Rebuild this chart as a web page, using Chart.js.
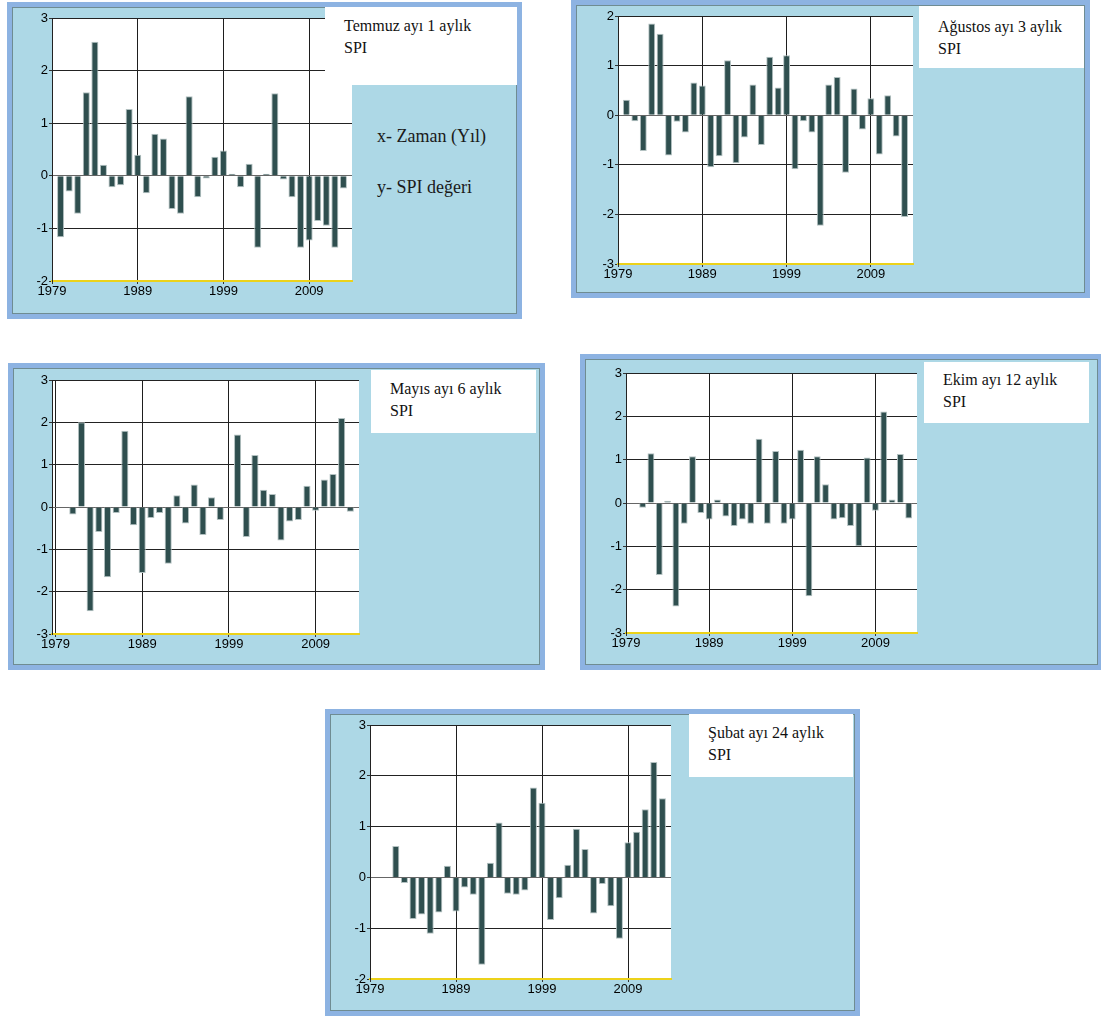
<!DOCTYPE html>
<html>
<head>
<meta charset="utf-8">
<script src="https://cdn.jsdelivr.net/npm/chart.js@4.4.0/dist/chart.umd.min.js"></script>
<style>
  html, body { margin: 0; padding: 0; background: #fff; }
  body { position: relative; width: 1101px; height: 1016px; overflow: hidden; }
  .frame { position: absolute; box-sizing: border-box; border: 5px solid #8db3e2; background: #add8e6; box-shadow: inset 0 0 0 1px #6f8c92; }
  canvas { position: absolute; }
  .label { position: absolute; box-sizing: border-box; background: #fff; z-index: 2;
           font-family: 'Liberation Serif', 'Times New Roman', serif; font-size: 16px; line-height: 22px;
           color: #111; padding-left: 19px; white-space: nowrap; }
  .note { position: absolute; font-family: 'Liberation Serif', 'Times New Roman', serif; font-size: 18px;
          line-height: 18px; color: #1a1a1a; white-space: nowrap; }
</style>
</head>
<body>
<div class="frame" style="left:7px;top:2px;width:515px;height:317px"></div>
<div class="frame" style="left:571px;top:0px;width:519px;height:298px"></div>
<div class="frame" style="left:8px;top:363px;width:537px;height:307px"></div>
<div class="frame" style="left:580px;top:354px;width:523px;height:316px"></div>
<div class="frame" style="left:325px;top:709px;width:535px;height:307px"></div>

<canvas id="temmuzChart"></canvas>
<canvas id="agustosChart"></canvas>
<canvas id="mayisChart"></canvas>
<canvas id="ekimChart"></canvas>
<canvas id="subatChart"></canvas>

<div class="label" style="left:325px;top:7px;width:192px;height:78px;padding-top:8px">Temmuz ayı 1 aylık<br>SPI</div>
<div class="label" style="left:919px;top:6px;width:165px;height:62px;padding-top:10px">Ağustos ayı 3 aylık<br>SPI</div>
<div class="label" style="left:371px;top:370px;width:165px;height:63px;padding-top:8px">Mayıs ayı 6 aylık<br>SPI</div>
<div class="label" style="left:924px;top:362px;width:165px;height:61px;padding-top:7px">Ekim ayı 12 aylık<br>SPI</div>
<div class="label" style="left:689px;top:714px;width:164px;height:63px;padding-top:8px">Şubat ayı 24 aylık<br>SPI</div>

<div class="note" style="left:377px;top:127px">x- Zaman (Yıl)</div>
<div class="note" style="left:377px;top:178px">y- SPI değeri</div>

<script>
// years shown on the x axis of every panel
const years = [1980, 1981, 1982, 1983, 1984, 1985, 1986, 1987, 1988, 1989,
               1990, 1991, 1992, 1993, 1994, 1995, 1996, 1997, 1998, 1999,
               2000, 2001, 2002, 2003, 2004, 2005, 2006, 2007, 2008, 2009,
               2010, 2011, 2012, 2013];
const tickYears = [1979, 1989, 1999, 2009];

// SPI values per panel (null = no bar)
const temmuz1 = [-1.17, -0.30, -0.72, 1.59, 2.55, 0.21, -0.22, -0.18, 1.27, 0.40,
                 -0.33, 0.80, 0.71, -0.63, -0.72, 1.51, -0.41, -0.05, 0.36, 0.48,
                 0.04, -0.22, 0.23, -1.37, 0.04, 1.57, -0.07, -0.41, -1.37, -1.23,
                 -0.86, -0.95, -1.37, -0.24];
const agustos3 = [0.31, -0.12, -0.72, 1.85, 1.64, -0.81, -0.13, -0.35, 0.66, 0.60,
                  -1.05, -0.83, 1.11, -0.97, -0.45, 0.62, -0.60, 1.18, 0.56, 1.21,
                  -1.09, -0.12, -0.35, -2.23, 0.62, 0.77, -1.16, 0.54, -0.29, 0.34,
                  -0.79, 0.40, -0.43, -2.05];
const mayis6 = [null, -0.18, 2.00, -2.46, -0.59, -1.66, -0.14, 1.80, -0.43, -1.56,
                -0.26, -0.14, -1.34, 0.28, -0.39, 0.53, -0.66, 0.23, -0.31, null,
                1.71, -0.71, 1.23, 0.41, 0.31, -0.79, -0.34, -0.31, 0.50, -0.09,
                0.65, 0.78, 2.10, -0.11];
const ekim12 = [null, -0.11, 1.15, -1.66, 0.05, -2.39, -0.48, 1.08, -0.23, -0.38,
                0.08, -0.31, -0.53, -0.38, -0.48, 1.48, -0.48, 1.20, -0.48, -0.38,
                1.23, -2.15, 1.08, 0.43, -0.38, -0.35, -0.53, -1.00, 1.05, -0.18,
                2.11, 0.08, 1.13, -0.36];
const subat24 = [null, null, 0.62, -0.11, -0.82, -0.73, -1.11, -0.69, 0.23, -0.67,
                 -0.20, -0.34, -1.72, 0.29, 1.08, -0.32, -0.34, -0.26, 1.77, 1.47,
                 -0.84, -0.41, 0.25, 0.96, 0.56, -0.71, -0.13, -0.57, -1.21, 0.69,
                 0.90, 1.34, 2.27, 1.56];

const PAD_L = 40, PAD_T = 10, PAD_R = 2, AX_H = 22;
const tickFont = { family: "'Liberation Sans Narrow', 'Liberation Sans', Arial, sans-serif", size: 13 };

// white plot area
const plotBg = {
  id: 'plotBg',
  beforeDraw(chart) {
    const { ctx, chartArea: a } = chart;
    ctx.save();
    ctx.fillStyle = '#ffffff';
    ctx.fillRect(a.left, a.top, a.width, a.height);
    ctx.restore();
  }
};

function makeChart(id, values, yMin, yMax, xMin, plot) {
  const [L, T, R, B] = plot;
  const canvas = document.getElementById(id);
  const w = Math.round(R - L) + PAD_L + PAD_R;
  const h = Math.round(B - T) + PAD_T + AX_H;
  canvas.width = w; canvas.height = h;
  canvas.style.width = w + 'px'; canvas.style.height = h + 'px';
  canvas.style.left = (Math.round(L) - PAD_L) + 'px';
  canvas.style.top = (Math.round(T) - PAD_T) + 'px';

  return new Chart(canvas, {
    type: 'bar',
    data: {
      datasets: [{
        data: years.map((y, i) => ({ x: y, y: values[i] })),
        backgroundColor: '#2f4f4f',
        borderColor: '#b3c1c1',
        borderWidth: 1,
        barPercentage: 0.82,
        categoryPercentage: 1,
      }],
    },
    options: {
      responsive: false,
      animation: false,
      layout: { padding: { left: 0, top: PAD_T, right: PAD_R, bottom: 0 } },
      plugins: { legend: { display: false }, tooltip: { enabled: false } },
      scales: {
        x: {
          type: 'linear',
          min: xMin,
          max: 2014,
          offset: false,
          afterBuildTicks: s => { s.ticks = tickYears.map(v => ({ value: v })); },
          afterFit: s => { s.height = AX_H; },
          grid: { offset: false, color: '#1e1e1e', tickLength: 3, tickColor: '#333' },
          border: { color: '#ecd21a', width: 2 },
          ticks: { font: tickFont, color: '#000', padding: 0, maxRotation: 0, autoSkip: false,
                   callback: v => String(v) },
        },
        y: {
          min: yMin,
          max: yMax,
          afterFit: s => { s.width = PAD_L; },
          grid: {
            color: ctx => ctx.tick.value === yMin ? 'rgba(0,0,0,0)' : (ctx.tick.value === 0 ? '#666666' : '#222222'),
            tickLength: 3,
            tickColor: '#333',
          },
          border: { color: '#222', width: 1 },
          ticks: { stepSize: 1, font: tickFont, color: '#000', padding: 1, callback: v => String(v) },
        },
      },
    },
    plugins: [plotBg],
  });
}

makeChart('temmuzChart', temmuz1, -2, 3, 1979, [52, 18, 352, 281]);
makeChart('agustosChart', agustos3, -3, 2, 1979, [618, 16, 913, 264]);
makeChart('mayisChart', mayis6, -3, 3, 1978.6, [52, 380, 359, 634]);
makeChart('ekimChart', ekim12, -3, 3, 1979, [626, 373, 917, 633]);
makeChart('subatChart', subat24, -2, 3, 1979, [370, 725, 671, 979]);
</script>
</body>
</html>
